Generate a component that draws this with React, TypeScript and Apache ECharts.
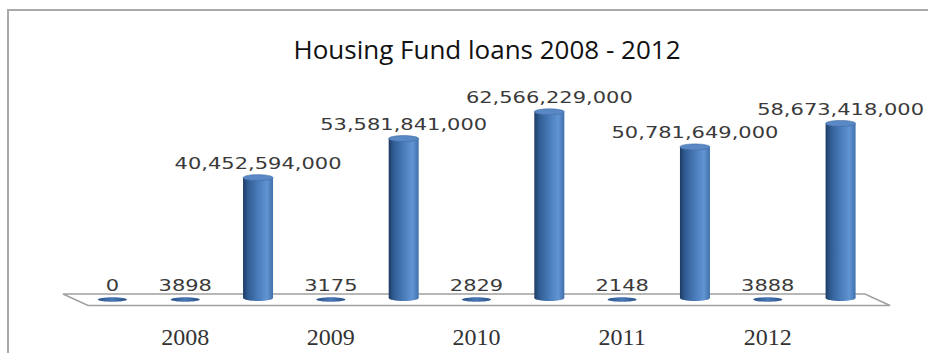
import React, { useEffect, useRef } from "react";
import * as echarts from "echarts";

const years = ["2008", "2009", "2010", "2011", "2012"];
const loanCounts = [0, 3898, 3175, 2829, 2148, 3888];
const loanAmounts = [40452594000, 53581841000, 62566229000, 50781649000, 58673418000];
const titleText = "Housing Fund loans 2008 - 2012";

const slotLabels: string[] = [""];
years.forEach((y) => {
  slotLabels.push(y);
  slotLabels.push("");
});

const countData = loanCounts.map((v, i) => [i === 0 ? 0 : 2 * i - 1, v]);
const amountData = loanAmounts.map((v, i) => [2 * i + 2, v]);

const bodyGradient = {
  type: "linear",
  x: 0,
  y: 0,
  x2: 1,
  y2: 0,
  colorStops: [
    { offset: 0, color: "#1e3b62" },
    { offset: 0.15, color: "#2e5a90" },
    { offset: 0.5, color: "#4a7cba" },
    { offset: 0.8, color: "#6194d3" },
    { offset: 1, color: "#4070aa" },
  ],
};

const makeRender = (useCommas: boolean) => (params: any, api: any) => {
  const slot = api.value(0);
  const v = api.value(1);
  const top = api.coord([slot, v]);
  const base = api.coord([slot, 0]);
  const cx = base[0];
  const yBase = base[1];
  const yTop = top[1];
  const rx = 15;
  const ry = 3;
  const children: any[] = [];
  const tall = yBase - yTop > 2;
  if (tall) {
    children.push({
      type: "ellipse",
      shape: { cx, cy: yBase, rx, ry },
      style: { fill: bodyGradient },
    });
    children.push({
      type: "rect",
      shape: { x: cx - rx, y: yTop, width: rx * 2, height: yBase - yTop },
      style: { fill: bodyGradient },
    });
    children.push({
      type: "ellipse",
      shape: { cx, cy: yTop, rx, ry },
      style: { fill: "#5a88c5", stroke: "#416ca5", lineWidth: 0.6 },
    });
  } else {
    children.push({
      type: "ellipse",
      shape: { cx, cy: yBase + 1.5, rx: 14.5, ry: 2.3 },
      style: {
        fill: {
          type: "linear",
          x: 0,
          y: 0,
          x2: 1,
          y2: 0,
          colorStops: [
            { offset: 0, color: "#2a5189" },
            { offset: 0.5, color: "#4a78b4" },
            { offset: 1, color: "#2a5189" },
          ],
        },
      },
    });
  }
  const txt = useCommas ? Number(v).toLocaleString("en-US") : String(v);
  children.push({
    type: "text",
    x: cx,
    y: tall ? yTop - 14 : yBase - 12,
    scaleX: 1.4,
    style: {
      text: txt,
      x: 0,
      y: 0,
      align: "center",
      verticalAlign: "middle",
      font: "15px 'DejaVu Sans'",
      fill: "#3a3a3a",
    },
  });
  return { type: "group", children };
};

export default function App() {
  const ref = useRef<HTMLDivElement>(null);
  useEffect(() => {
    if (!ref.current) return;
    const chart = echarts.init(ref.current, null, { renderer: "svg" });
    chart.setOption({
      animation: false,
      backgroundColor: "#ffffff",
      title: {
        text: titleText,
        left: 482,
        top: 31,
        textAlign: "center",
        textStyle: {
          fontFamily: "'Open Sans'",
          fontSize: 26,
          fontWeight: "normal",
          color: "#111111",
        },
      },
      graphic: [
        {
          type: "rect",
          shape: { x: 8, y: 10, width: 940, height: 360 },
          style: { fill: "none", stroke: "#a9a9a9", lineWidth: 2 },
          silent: true,
        },
        {
          type: "polygon",
          shape: {
            points: [
              [63, 294],
              [865, 294],
              [890, 305.5],
              [88, 305.5],
            ],
          },
          style: { fill: "#ffffff", stroke: "#a0a0a0", lineWidth: 1.5 },
          silent: true,
        },
      ],
      grid: { left: 76, right: 51, top: 60, bottom: 55 },
      xAxis: {
        type: "category",
        data: slotLabels,
        boundaryGap: true,
        axisLine: { show: false },
        axisTick: { show: false },
        splitLine: { show: false },
        axisLabel: {
          interval: 0,
          margin: 27,
          fontFamily: "'Liberation Serif'",
          fontSize: 24,
          color: "#333333",
        },
      },
      yAxis: {
        type: "value",
        min: 0,
        max: 80000000000,
        show: false,
        splitLine: { show: false },
      },
      series: [
        {
          type: "custom",
          name: "Number of loans",
          data: countData,
          encode: { x: 0, y: 1 },
          renderItem: makeRender(false),
          z: 3,
        },
        {
          type: "custom",
          name: "Loan amount",
          data: amountData,
          encode: { x: 0, y: 1 },
          renderItem: makeRender(true),
          z: 3,
        },
      ],
    });
    return () => chart.dispose();
  }, []);
  return (
    <div
      ref={ref}
      style={{ position: "absolute", left: 0, top: 0, width: 928, height: 353 }}
    />
  );
}
